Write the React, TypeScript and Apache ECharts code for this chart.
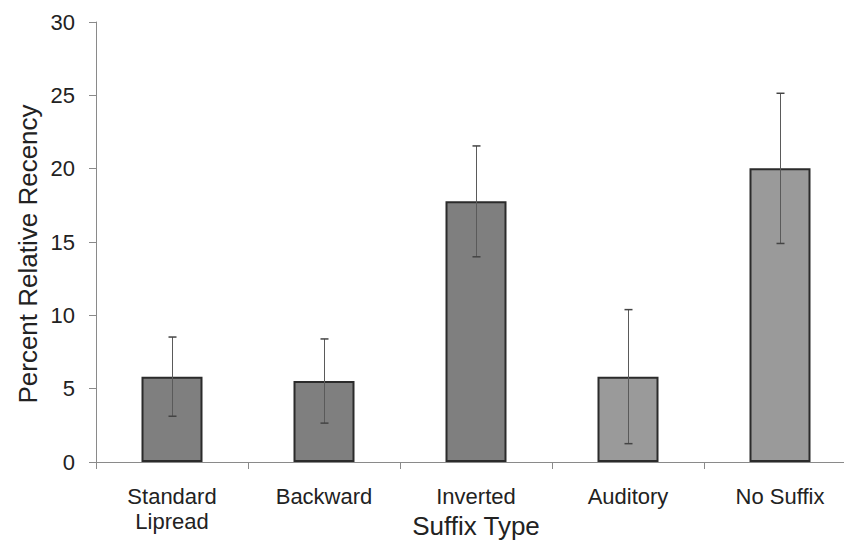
import React, { useEffect, useRef } from "react";
import * as echarts from "echarts";

// Suffix conditions and the mean percent relative recency with its error (±)
const categories = ["Standard\nLipread", "Backward", "Inverted", "Auditory", "No Suffix"];
const meanRecency = [5.82, 5.52, 17.77, 5.82, 20.02];
const errorRecency = [2.7, 2.87, 3.78, 4.57, 5.12];
const yTicks = [0, 5, 10, 15, 20, 25, 30];

const FONT = "'Liberation Sans', Arial, Helvetica, sans-serif";
const TEXT = "#222222";
const AXIS = "#8a8a8a";
const DARK_BAR = "#7f7f7f";
const LIGHT_BAR = "#9a9a9a";

export default function App() {
  const ref = useRef<HTMLDivElement>(null);

  useEffect(() => {
    document.body.style.margin = "0";
    if (!ref.current) return;
    const chart = echarts.init(ref.current, null, { renderer: "svg" });

    const errData = meanRecency.map((m, i) => [i, m - errorRecency[i], m + errorRecency[i]]);

    chart.setOption({
      animation: false,
      backgroundColor: "#ffffff",
      textStyle: { fontFamily: FONT },
      grid: {
        left: 96,
        top: 22,
        bottom: 84,
        right: -12,
        containLabel: false,
        outerBoundsMode: "none",
      },
      xAxis: {
        type: "category",
        data: categories,
        boundaryGap: true,
        axisLine: { show: true, lineStyle: { color: AXIS, width: 1 } },
        axisTick: { show: true, length: 7, inside: false, alignWithLabel: false, lineStyle: { color: AXIS } },
        axisLabel: {
          interval: 0,
          color: TEXT,
          fontFamily: FONT,
          fontSize: 22,
          lineHeight: 25,
          margin: 22,
        },
        name: "Suffix Type",
        nameLocation: "middle",
        nameGap: 51,
        nameMoveOverlap: false,
        nameTextStyle: { color: TEXT, fontFamily: FONT, fontSize: 26 },
        splitLine: { show: false },
      },
      yAxis: {
        type: "value",
        min: yTicks[0],
        max: yTicks[yTicks.length - 1],
        interval: 5,
        axisLine: { show: true, lineStyle: { color: AXIS, width: 1 } },
        axisTick: { show: true, length: 7, inside: false, lineStyle: { color: AXIS } },
        axisLabel: { color: TEXT, fontFamily: FONT, fontSize: 22, margin: 21 },
        splitLine: { show: false },
        name: "Percent Relative Recency",
        nameLocation: "middle",
        nameGap: 55,
        nameMoveOverlap: false,
        nameTextStyle: { color: TEXT, fontFamily: FONT, fontSize: 26, padding: [0, 24, 0, 0] },
      },
      series: [
        {
          type: "bar",
          data: meanRecency,
          barWidth: 61,
          itemStyle: {
            color: (p: any) => (p.dataIndex < 3 ? DARK_BAR : LIGHT_BAR),
            borderColor: "#2b2b2b",
            borderWidth: 2,
          },
          z: 2,
        },
        {
          type: "custom",
          data: errData,
          encode: { x: 0, y: [1, 2] },
          z: 3,
          renderItem: (params: any, api: any) => {
            const idx = api.value(0);
            const lo = api.coord([idx, api.value(1)]);
            const hi = api.coord([idx, api.value(2)]);
            const x = Math.round(lo[0]) + 0.5;
            const cap = 4;
            const style = { stroke: "#5a5a5a", lineWidth: 1 };
            return {
              type: "group",
              children: [
                { type: "line", shape: { x1: x, y1: hi[1], x2: x, y2: lo[1] }, style },
                { type: "line", shape: { x1: x - cap, y1: hi[1], x2: x + cap, y2: hi[1] }, style: { stroke: "#444", lineWidth: 1.5 } },
                { type: "line", shape: { x1: x - cap, y1: lo[1], x2: x + cap, y2: lo[1] }, style: { stroke: "#444", lineWidth: 1.5 } },
              ],
            };
          },
        },
      ],
    });

    return () => chart.dispose();
  }, []);

  return (
    <div
      ref={ref}
      style={{ position: "absolute", left: 0, top: 0, width: 844, height: 546, background: "#fff" }}
    />
  );
}
